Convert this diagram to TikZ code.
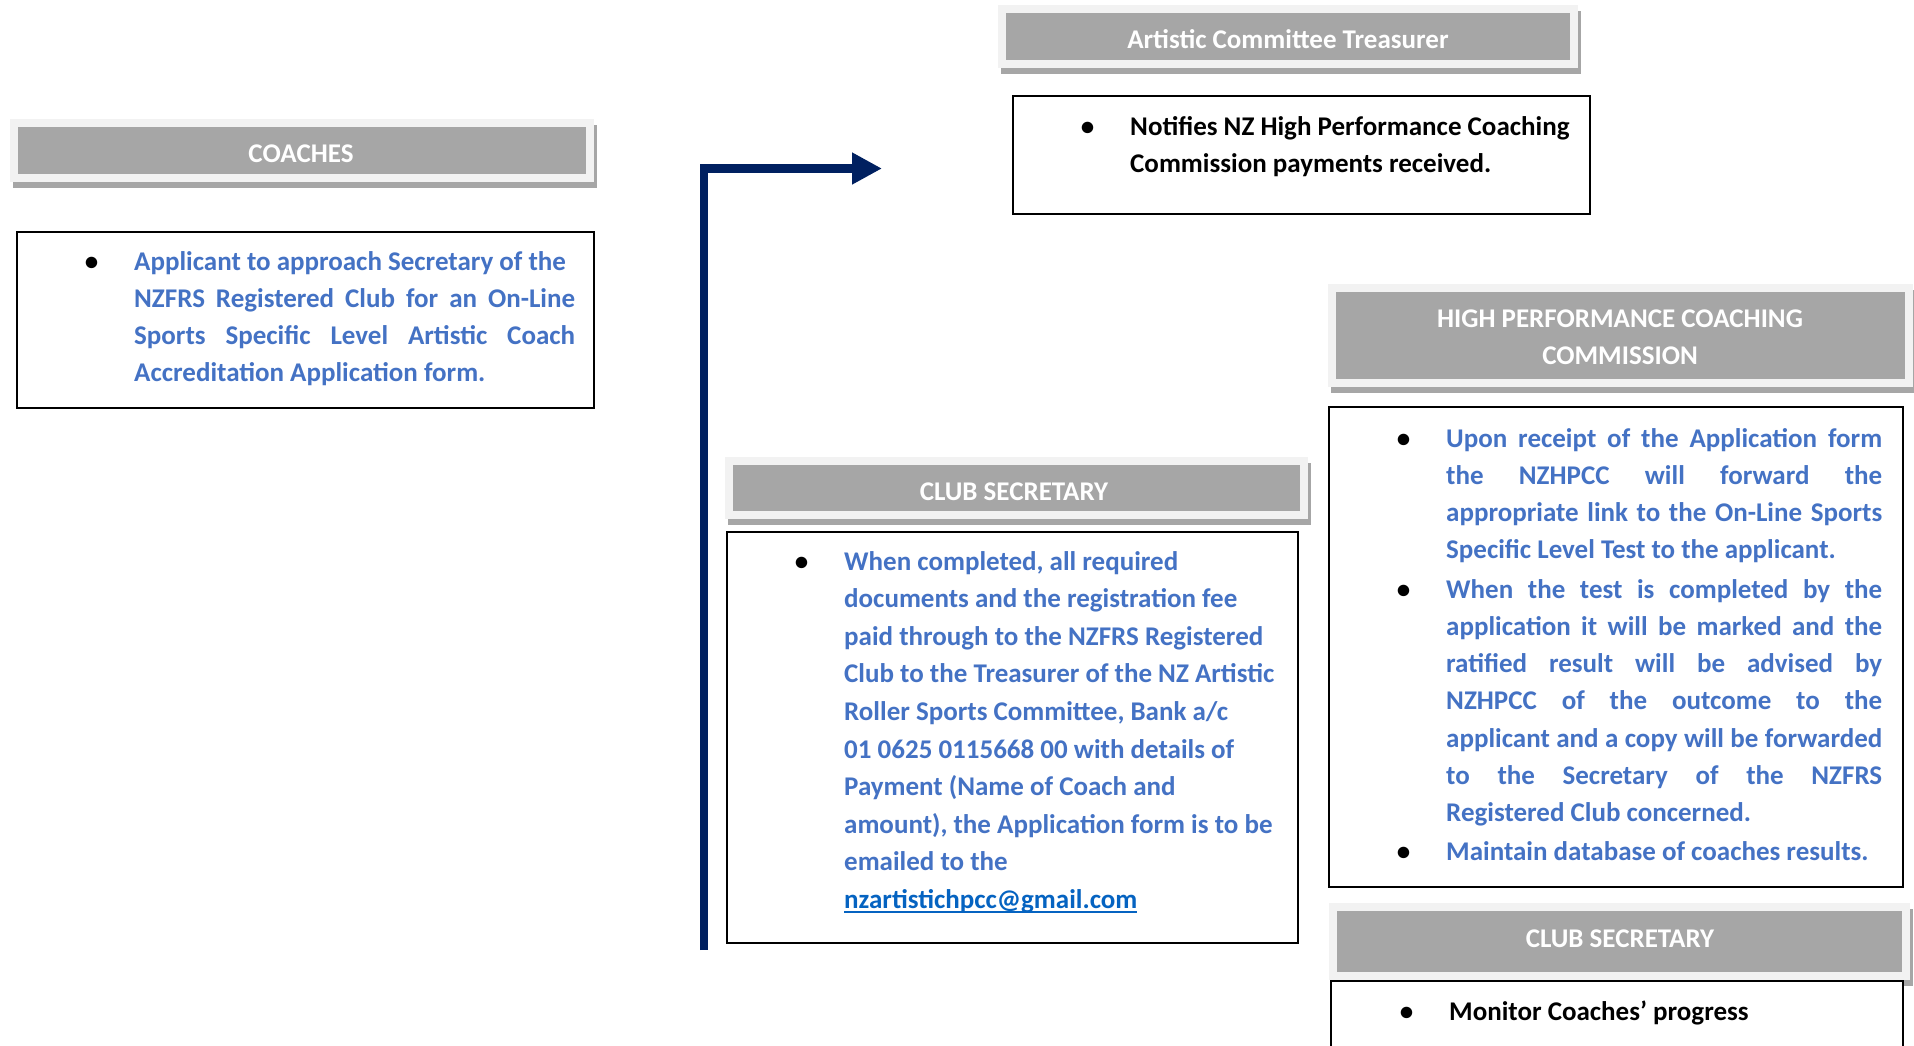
\documentclass[tikz,border=0pt]{standalone}
\usepackage{fontspec}
\setmainfont{Carlito}
\usetikzlibrary{arrows.meta}
\definecolor{hdrgray}{HTML}{A6A6A6}
\definecolor{framegray}{HTML}{F2F2F2}
\definecolor{shadowgray}{HTML}{A6A6A6}
\definecolor{txtblue}{HTML}{4472C4}
\definecolor{linkblue}{HTML}{0563C1}
\definecolor{navy}{HTML}{002060}
\newcommand\fsz{\fontsize{27pt}{37.2pt}\selectfont\bfseries}
\newcommand\fszb{\fontsize{27pt}{37.6pt}\selectfont\bfseries}
\newcommand\fszh{\fontsize{27pt}{37.2pt}\selectfont\bfseries}
\newcommand\nsp{\spaceskip=0pt\xspaceskip=0pt\relax}
\newcommand\bul{\leavevmode\llap{\textcolor{black}{\textbullet}\hspace{36pt}}}
\newlength\jwd
\newcommand\myJ[1]{\leavevmode\hbox to \jwd{\nsp #1}\\}
\newcommand\myUL[1]{\setbox0\hbox{#1}\rlap{\rule[-4.5pt]{\wd0}{1.6pt}}\box0}
\tikzset{
  hdr/.style={fill=hdrgray, draw=framegray, line width=8pt, outer sep=0pt, inner sep=0pt,
    preaction={fill=shadowgray, draw=shadowgray, transform canvas={shift={(3pt,-6pt)}}}},
  hdrtxt/.style={text=white, font=\fszh, inner sep=0pt, align=center},
  textbox/.style={draw=black, line width=2pt, fill=white, inner sep=0pt, outer sep=0pt},
  body/.style={anchor=base west, inner sep=0pt, font=\fsz},
  flow/.style={draw=navy, line width=8.5pt, -{Triangle[length=30pt,width=30pt]}}
}
\begin{document}
\begin{tikzpicture}[x=1pt,y=-1pt]
\useasboundingbox (0,0) rectangle (1914,1045);
% headers
\node[hdr, minimum width=576pt, minimum height=55pt] (hCo) at (302,150.5) {};
\node[hdrtxt] (lCo) at (301,154) {COACHES};
\node[hdr, minimum width=572pt, minimum height=55pt] (hTr) at (1288,36.5) {};
\node[hdrtxt] (lTr) at (1288,39.5) {\nsp Artistic Committee Treasurer};
\node[hdr, minimum width=577pt, minimum height=95pt] (hHP) at (1620.5,335.5) {};
\node[hdrtxt] (lHP) at (1620,337) {\nsp HIGH PERFORMANCE COACHING\\COMMISSION};
\node[hdr, minimum width=575pt, minimum height=54pt] (hCS) at (1016.5,488) {};
\node[hdrtxt] (lCS) at (1014,492) {\nsp CLUB SECRETARY};
\node[hdr, minimum width=573pt, minimum height=69pt] (hCT) at (1619.5,941.5) {};
\node[hdrtxt] (lCT) at (1620,939) {\nsp CLUB SECRETARY};
% boxes
\node[textbox, minimum width=577pt, minimum height=176pt] (bCo) at (305.5,320) {};
\node[textbox, minimum width=577pt, minimum height=118pt] (bTr) at (1301.5,155) {};
\node[textbox, minimum width=574pt, minimum height=480pt] (bHP) at (1616,647) {};
\node[textbox, minimum width=571pt, minimum height=411pt] (bCS) at (1012.5,737.5) {};
\node[textbox, minimum width=572pt, minimum height=90pt] (bCT) at (1617,1026) {};
% texts
\node[body, text width=441pt, text=txtblue] (tCo) at (134,270) {%
\nsp\setlength\jwd{441pt}%
\bul Applicant to approach Secretary of the\\
\myJ{NZFRS Registered Club for an On-Line}%
\myJ{Sports Specific Level Artistic Coach}%
Accreditation Application form.};
\node[body, text width=450pt, text=black] (tTr) at (1130,135) {%
\nsp\bul Notifies NZ High Performance Coaching\\
Commission payments received.};
\node[body, text width=436pt, text=txtblue] (tHP) at (1446,447) {%
\nsp\setlength\jwd{436pt}%
\myJ{\bul Upon receipt of the Application form}%
\myJ{the NZHPCC will forward the}%
\myJ{appropriate link to the On-Line Sports}%
Specific Level Test to the applicant.\\[2.5pt]%
\myJ{\bul When the test is completed by the}%
\myJ{application it will be marked and the}%
\myJ{ratified result will be advised by}%
\myJ{NZHPCC of the outcome to the}%
\myJ{applicant and a copy will be forwarded}%
\myJ{to the Secretary of the NZFRS}%
Registered Club concerned.\\[2pt]%
\bul Maintain database of coaches results.};
\node[body, text width=452pt, text=txtblue, font=\fszb] (tCS) at (844,570) {%
\nsp\bul When completed, all required\\
documents and the registration fee\\
paid through to the NZFRS Registered\\
Club to the Treasurer of the NZ Artistic\\
Roller Sports Committee, Bank a/c\\
01 0625 0115668 00 with details of\\
Payment (Name of Coach and\\
amount), the Application form is to be\\
emailed to the\\
\textcolor{linkblue}{\myUL{nzartistichpcc@gmail.com}}};
\node[body, text width=440pt, text=black] (tCT) at (1449,1020) {%
\nsp\bul Monitor Coaches’ progress};
% arrow
\coordinate (aS) at (704,950);
\coordinate (aE) at (882,168.5);
\draw[flow] (aS) |- (aE);
\end{tikzpicture}
\end{document}
